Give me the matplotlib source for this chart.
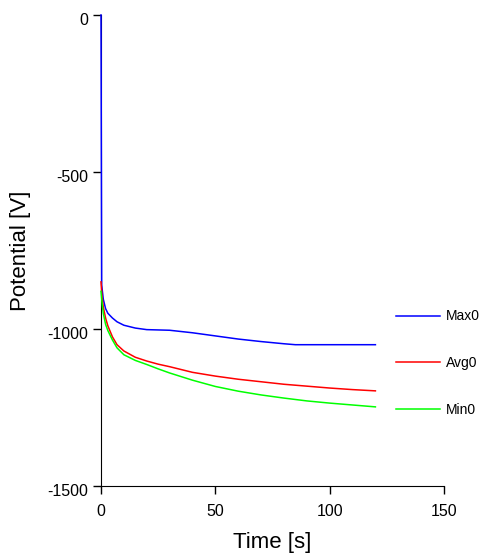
import numpy as np
import matplotlib
matplotlib.use("Agg")
import matplotlib.pyplot as plt
import matplotlib.transforms as mtransforms

plt.rcParams['font.family'] = ['Liberation Sans', 'DejaVu Sans']
plt.rcParams['axes.unicode_minus'] = False

# time axis [s]
t_max = [0, 0.3, 1, 2, 3, 5, 7, 10, 15, 20, 30, 40, 50, 60, 70, 80, 85, 120]
v_max = [0, -860, -905, -935, -950, -965, -977, -988, -997, -1002, -1004,
         -1012, -1022, -1032, -1040, -1047, -1050, -1050]

t_avg = [0, 0.5, 1, 2, 3, 5, 7, 10, 15, 20, 25, 30, 40, 50, 60, 70, 80,
         90, 100, 110, 120]
v_avg = [-850, -900, -930, -965, -990, -1025, -1050, -1070, -1090, -1102,
         -1112, -1120, -1138, -1150, -1160, -1168, -1176, -1182, -1188,
         -1193, -1197]

t_min = [0, 0.5, 1, 2, 3, 5, 7, 10, 15, 20, 25, 30, 40, 50, 60, 70, 80,
         90, 100, 110, 120]
v_min = [-880, -920, -950, -985, -1005, -1035, -1060, -1082, -1100, -1113,
         -1127, -1140, -1163, -1183, -1198, -1210, -1220, -1229, -1236,
         -1242, -1248]

x_ticks = [0, 50, 100, 150]
y_ticks = [0, -500, -1000, -1500]

fig = plt.figure(figsize=(4.87, 5.6), dpi=100)
ax = fig.add_axes([101/487, 74/560, 343/487, 471/560])

# lines drawn above the spines, like the original
ax.plot(t_max, v_max, color='#0000ff', lw=1.1, label='Max0', zorder=3, clip_on=False)
ax.plot(t_avg, v_avg, color='#ff0000', lw=1.1, label='Avg0', zorder=3, clip_on=False)
ax.plot(t_min, v_min, color='#00ff00', lw=1.1, label='Min0', zorder=3, clip_on=False)

ax.set_xlim(0, 150)
ax.set_ylim(-1500, 0)
ax.set_xticks(x_ticks)
ax.set_yticks(y_ticks)
ax.spines['top'].set_visible(False)
ax.spines['right'].set_visible(False)
ax.tick_params(labelsize=11.5, length=6, width=1)
ax.tick_params(axis='y', pad=3.5)
ax.tick_params(axis='x', pad=7)
# y tick labels sit a little below their ticks in the original
shift = mtransforms.ScaledTranslation(0, -4/100, fig.dpi_scale_trans)
for lbl in ax.get_yticklabels():
    lbl.set_transform(lbl.get_transform() + shift)

ax.set_xlabel('Time [s]', fontsize=16)
ax.set_ylabel('Potential [V]', fontsize=16)
ax.xaxis.set_label_coords(0.5, -0.098)
ax.yaxis.set_label_coords(-0.205, 0.5)

fig.legend(loc='center left', bbox_to_anchor=(396/487, 197/560),
           frameon=False, fontsize=10, handlelength=3.2, handletextpad=0.4,
           labelspacing=2.35, borderpad=0, borderaxespad=0)

fig.savefig('out.png', dpi=100)
